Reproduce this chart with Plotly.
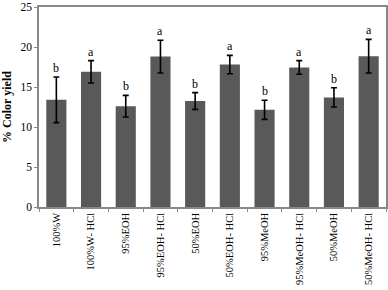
import plotly.graph_objects as go

categories = ["100%W", "100%W- HCl", "95%EOH", "95%EOH- HCl", "50%EOH",
              "50%EOH- HCl", "95%MeOH", "95%MeOH- HCl", "50%MeOH", "50%MeOH- HCl"]
values = [13.4, 16.9, 12.6, 18.8, 13.25, 17.8, 12.15, 17.45, 13.7, 18.85]
errors = [2.85, 1.4, 1.35, 2.05, 1.05, 1.15, 1.2, 0.85, 1.2, 2.1]
letters = ["b", "a", "b", "a", "b", "a", "b", "a", "b", "a"]

SERIF = "Liberation Serif, Times New Roman, serif"

fig = go.Figure()
fig.add_trace(go.Bar(
    x=categories, y=values,
    marker=dict(color="#595959", line=dict(width=0)),
    width=0.58,
    error_y=dict(type="data", array=errors, visible=True,
                 color="black", thickness=1.6, width=3),
))

for c, v, e, l in zip(categories, values, errors, letters):
    fig.add_annotation(x=c, y=v + e, text=l, showarrow=False,
                       yanchor="bottom", yshift=0,
                       font=dict(family=SERIF, size=12, color="black"))

fig.update_layout(
    width=388, height=290,
    margin=dict(l=39, r=2, t=7, b=83),
    plot_bgcolor="white", paper_bgcolor="white",
    showlegend=False,
    font=dict(family=SERIF, size=11, color="black"),
    bargap=0.42,
)
fig.update_xaxes(
    tickangle=-90, tickson="boundaries", ticks="outside", ticklen=3,
    tickcolor="#888888", showline=True, linecolor="#888888", linewidth=1.5,
    mirror=True, tickfont=dict(family=SERIF, size=10.5), automargin=False,
)
fig.update_yaxes(
    range=[0, 25], dtick=5, ticks="outside", ticklen=3, tickcolor="#888888",
    showline=True, linecolor="#888888", linewidth=1.5, mirror=True,
    showgrid=False, zeroline=False, automargin=False,
    tickfont=dict(family=SERIF, size=11.5),
    title=dict(text="<b>% Color yield</b>", standoff=8,
               font=dict(family=SERIF, size=12)),
)

fig.write_html("out.html", config={"displayModeBar": False},
               post_script="document.body.style.margin='0';document.body.style.padding='0';")
